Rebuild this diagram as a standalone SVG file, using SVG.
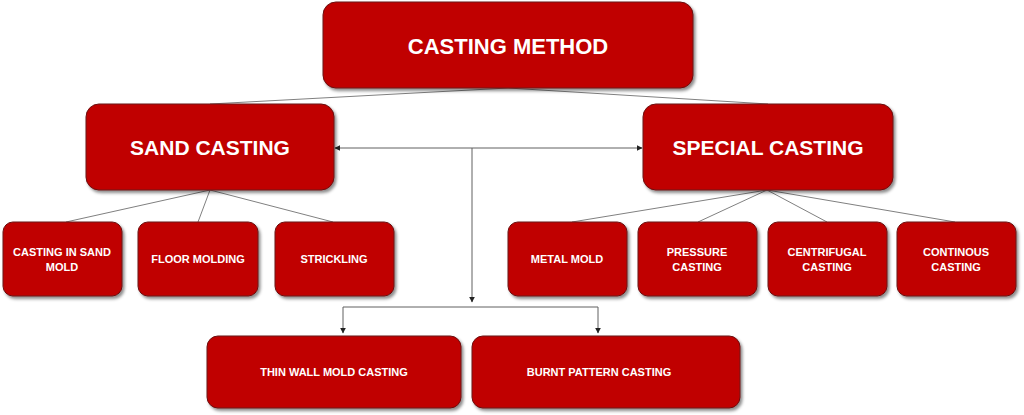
<svg xmlns="http://www.w3.org/2000/svg" width="1024" height="415" viewBox="0 0 1024 415">
<defs>
<filter id="sh" x="-10%" y="-10%" width="125%" height="130%">
<feDropShadow dx="2" dy="2.5" stdDeviation="1.5" flood-color="#000" flood-opacity="0.45"/>
</filter>
<marker id="ar" viewBox="0 0 10 10" refX="9" refY="5" markerWidth="6" markerHeight="6" orient="auto-start-reverse" markerUnits="userSpaceOnUse">
<path d="M0,0 L10,5 L0,10 z" fill="#222"/>
</marker>
</defs>
<style>
.box{fill:#C00000;stroke:#6b1010;stroke-width:1;filter:url(#sh)}
.t{fill:#fff;font-family:"Liberation Sans",Arial,sans-serif;font-weight:bold;text-anchor:middle}
.big{font-size:22px}
.mid{font-size:21px}
.sm{font-size:11px}
.ln{stroke:#808080;stroke-width:1;fill:none}
.ar{stroke:#606060;stroke-width:1;fill:none}
</style>
<rect width="1024" height="415" fill="#fff"/>
<g id="connectors">
<line class="ln" x1="508" y1="88" x2="210" y2="104"/>
<line class="ln" x1="508" y1="88" x2="768" y2="104"/>
<line class="ln" x1="210" y1="190" x2="66" y2="222"/>
<line class="ln" x1="210" y1="190" x2="198" y2="222"/>
<line class="ln" x1="210" y1="190" x2="333" y2="222"/>
<line class="ln" x1="767" y1="190" x2="572" y2="222"/>
<line class="ln" x1="767" y1="190" x2="698" y2="222"/>
<line class="ln" x1="767" y1="190" x2="827" y2="222"/>
<line class="ln" x1="767" y1="190" x2="955" y2="222"/>
<line class="ar" x1="335" y1="148" x2="642" y2="148" marker-start="url(#ar)" marker-end="url(#ar)"/>
<line class="ar" x1="472" y1="148" x2="472" y2="302" marker-end="url(#ar)"/>
<polyline class="ar" points="343,333 343,307 598,307 598,333" marker-start="url(#ar)" marker-end="url(#ar)"/>
</g>
<g id="casting-method">
<rect class="box" x="323" y="2" width="370" height="86" rx="13"/>
<text class="t big" x="508" y="54">CASTING METHOD</text>
</g>
<g id="sand-casting">
<rect class="box" x="86" y="104" width="248" height="86" rx="13"/>
<text class="t mid" x="210" y="155">SAND CASTING</text>
</g>
<g id="special-casting">
<rect class="box" x="643" y="104" width="250" height="86" rx="13"/>
<text class="t mid" x="768" y="155">SPECIAL CASTING</text>
</g>
<g id="casting-in-sand-mold">
<rect class="box" x="3" y="222" width="119" height="74" rx="10"/>
<text class="t sm" x="62" y="256">CASTING IN SAND</text>
<text class="t sm" x="62" y="271">MOLD</text>
</g>
<g id="floor-molding">
<rect class="box" x="138" y="222" width="120" height="74" rx="10"/>
<text class="t sm" x="198" y="263">FLOOR MOLDING</text>
</g>
<g id="strickling">
<rect class="box" x="275" y="222" width="119" height="74" rx="10"/>
<text class="t sm" x="334" y="263">STRICKLING</text>
</g>
<g id="metal-mold">
<rect class="box" x="508" y="222" width="119" height="74" rx="10"/>
<text class="t sm" x="567" y="263">METAL MOLD</text>
</g>
<g id="pressure-casting">
<rect class="box" x="638" y="222" width="119" height="74" rx="10"/>
<text class="t sm" x="697" y="256">PRESSURE</text>
<text class="t sm" x="697" y="271">CASTING</text>
</g>
<g id="centrifugal-casting">
<rect class="box" x="768" y="222" width="119" height="74" rx="10"/>
<text class="t sm" x="827" y="256">CENTRIFUGAL</text>
<text class="t sm" x="827" y="271">CASTING</text>
</g>
<g id="continous-casting">
<rect class="box" x="897" y="222" width="119" height="74" rx="10"/>
<text class="t sm" x="956" y="256">CONTINOUS</text>
<text class="t sm" x="956" y="271">CASTING</text>
</g>
<g id="thin-wall-mold-casting">
<rect class="box" x="207" y="336" width="254" height="72" rx="11"/>
<text class="t sm" x="334" y="376">THIN WALL MOLD CASTING</text>
</g>
<g id="burnt-pattern-casting">
<rect class="box" x="472" y="336" width="268" height="72" rx="11"/>
<text class="t sm" x="599" y="376">BURNT PATTERN CASTING</text>
</g>
</svg>
